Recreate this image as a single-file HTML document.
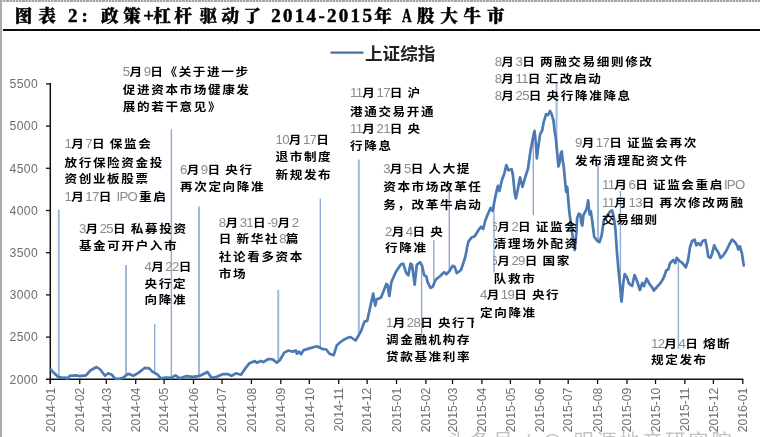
<!DOCTYPE html>
<html lang="zh-CN"><head><meta charset="utf-8"><title>图表 2</title>
<style>
html,body{margin:0;padding:0;background:#fff;}
body{width:760px;height:437px;position:relative;overflow:hidden;font-family:"Liberation Sans","Noto Sans CJK SC",sans-serif;}
#bl{position:absolute;left:0;top:0;width:2.4px;height:437px;background:#adadad;}
#bt{position:absolute;left:0;top:0;width:760px;height:1.6px;background:repeating-linear-gradient(90deg,#a6a6a6 0,#a6a6a6 2.1px,#dcdcdc 2.1px,#dcdcdc 3.2px);}
#ul{position:absolute;left:3px;top:29px;width:757px;height:2px;background:#0a0a0a;}
.t{position:absolute;top:3px;height:26px;line-height:26px;font-family:"Liberation Serif","Noto Serif CJK SC",serif;font-weight:900;font-size:19.5px;color:#000;white-space:nowrap;-webkit-text-stroke:0.45px #000;transform:translateZ(0);}
.tk{font-family:"Liberation Sans",sans-serif;font-size:12.2px;fill:#6e6e6e;}
.a{position:absolute;height:18px;line-height:18px;font-family:"Liberation Sans","Noto Sans CJK SC",sans-serif;font-weight:700;font-size:12.6px;letter-spacing:1.6px;word-spacing:-1.5px;color:#000;white-space:nowrap;transform:scaleY(0.9);transform-origin:0 50%;}
.a i{font-style:normal;font-weight:400;font-size:13.2px;letter-spacing:-0.7px;color:#8a8a8a;}
.lc{display:inline-block;width:4.6px;overflow:hidden;vertical-align:top;height:18px;direction:rtl;}
.clip{display:inline-block;width:7.5px;overflow:hidden;vertical-align:top;height:18px;}
#anns{position:absolute;left:0;top:0;width:760px;height:437px;transform:translateZ(0);}
#lg{transform:translateZ(0);position:absolute;left:365px;top:42px;height:25px;line-height:25px;font-family:"Liberation Sans","Noto Sans CJK SC",sans-serif;font-weight:700;font-size:17.6px;color:#222;white-space:nowrap;}
#wm{transform:translateZ(0);position:absolute;left:447px;top:431.8px;font-size:20px;line-height:20px;letter-spacing:3px;color:#c2c2c2;white-space:nowrap;font-family:"Liberation Sans","Noto Sans CJK SC",sans-serif;}
</style></head><body>

<svg width="760" height="437" viewBox="0 0 760 437" style="position:absolute;left:0;top:0;transform:translateZ(0)">
<line x1="58.8" y1="209.7" x2="58.8" y2="376.5" stroke="#a1badc" stroke-width="2"/>
<line x1="126.0" y1="264.9" x2="126.0" y2="376.0" stroke="#a1badc" stroke-width="2"/>
<line x1="154.7" y1="323.8" x2="154.7" y2="373.0" stroke="#8eabd2" stroke-width="1.4"/>
<line x1="171.4" y1="129.0" x2="171.4" y2="377.5" stroke="#8eabd2" stroke-width="1.4"/>
<line x1="199.0" y1="206.6" x2="199.0" y2="376.0" stroke="#a1badc" stroke-width="2"/>
<line x1="278.2" y1="290.0" x2="278.2" y2="361.0" stroke="#a1badc" stroke-width="2"/>
<line x1="320.3" y1="198.8" x2="320.3" y2="348.0" stroke="#8eabd2" stroke-width="1.4"/>
<line x1="358.8" y1="159.5" x2="358.8" y2="334.0" stroke="#a1badc" stroke-width="2"/>
<line x1="421.6" y1="264.0" x2="421.6" y2="337.5" stroke="#8eabd2" stroke-width="1.4"/>
<line x1="433.8" y1="240.0" x2="433.8" y2="287.0" stroke="#8eabd2" stroke-width="1.4"/>
<line x1="449.3" y1="191.0" x2="449.3" y2="271.5" stroke="#8eabd2" stroke-width="1.4"/>
<line x1="494.0" y1="204.7" x2="494.0" y2="272.5" stroke="#8eabd2" stroke-width="1.4"/>
<line x1="533.3" y1="134.0" x2="533.3" y2="215.3" stroke="#8eabd2" stroke-width="1.4"/>
<line x1="556.6" y1="82.0" x2="556.6" y2="150.0" stroke="#a1badc" stroke-width="2"/>
<line x1="598.0" y1="163.0" x2="598.0" y2="241.0" stroke="#a1badc" stroke-width="2"/>
<line x1="620.4" y1="191.0" x2="620.4" y2="300.0" stroke="#8eabd2" stroke-width="1.4"/>
<line x1="678.4" y1="259.0" x2="678.4" y2="349.0" stroke="#8eabd2" stroke-width="1.4"/>
<line x1="50.3" y1="83" x2="50.3" y2="384" stroke="#111" stroke-width="1.5"/>
<line x1="46" y1="379.3" x2="743.3" y2="379.3" stroke="#111" stroke-width="1.5"/>
<line x1="46" y1="337.1" x2="50.3" y2="337.1" stroke="#111" stroke-width="1.3"/>
<line x1="46" y1="294.9" x2="50.3" y2="294.9" stroke="#111" stroke-width="1.3"/>
<line x1="46" y1="252.7" x2="50.3" y2="252.7" stroke="#111" stroke-width="1.3"/>
<line x1="46" y1="210.5" x2="50.3" y2="210.5" stroke="#111" stroke-width="1.3"/>
<line x1="46" y1="168.3" x2="50.3" y2="168.3" stroke="#111" stroke-width="1.3"/>
<line x1="46" y1="126.1" x2="50.3" y2="126.1" stroke="#111" stroke-width="1.3"/>
<line x1="46" y1="83.9" x2="50.3" y2="83.9" stroke="#111" stroke-width="1.3"/>
<line x1="50.3" y1="379.3" x2="50.3" y2="384" stroke="#111" stroke-width="1.3"/>
<text transform="translate(54.5,387.6) rotate(-90)" text-anchor="end" class="tk">2014-01</text>
<line x1="79.7" y1="379.3" x2="79.7" y2="384" stroke="#111" stroke-width="1.3"/>
<text transform="translate(83.9,387.6) rotate(-90)" text-anchor="end" class="tk">2014-02</text>
<line x1="106.3" y1="379.3" x2="106.3" y2="384" stroke="#111" stroke-width="1.3"/>
<text transform="translate(110.5,387.6) rotate(-90)" text-anchor="end" class="tk">2014-03</text>
<line x1="135.7" y1="379.3" x2="135.7" y2="384" stroke="#111" stroke-width="1.3"/>
<text transform="translate(139.9,387.6) rotate(-90)" text-anchor="end" class="tk">2014-04</text>
<line x1="164.1" y1="379.3" x2="164.1" y2="384" stroke="#111" stroke-width="1.3"/>
<text transform="translate(168.3,387.6) rotate(-90)" text-anchor="end" class="tk">2014-05</text>
<line x1="193.5" y1="379.3" x2="193.5" y2="384" stroke="#111" stroke-width="1.3"/>
<text transform="translate(197.7,387.6) rotate(-90)" text-anchor="end" class="tk">2014-06</text>
<line x1="222.0" y1="379.3" x2="222.0" y2="384" stroke="#111" stroke-width="1.3"/>
<text transform="translate(226.2,387.6) rotate(-90)" text-anchor="end" class="tk">2014-07</text>
<line x1="251.4" y1="379.3" x2="251.4" y2="384" stroke="#111" stroke-width="1.3"/>
<text transform="translate(255.6,387.6) rotate(-90)" text-anchor="end" class="tk">2014-08</text>
<line x1="280.8" y1="379.3" x2="280.8" y2="384" stroke="#111" stroke-width="1.3"/>
<text transform="translate(285.0,387.6) rotate(-90)" text-anchor="end" class="tk">2014-09</text>
<line x1="309.3" y1="379.3" x2="309.3" y2="384" stroke="#111" stroke-width="1.3"/>
<text transform="translate(313.5,387.6) rotate(-90)" text-anchor="end" class="tk">2014-10</text>
<line x1="338.7" y1="379.3" x2="338.7" y2="384" stroke="#111" stroke-width="1.3"/>
<text transform="translate(342.9,387.6) rotate(-90)" text-anchor="end" class="tk">2014-11</text>
<line x1="367.1" y1="379.3" x2="367.1" y2="384" stroke="#111" stroke-width="1.3"/>
<text transform="translate(371.3,387.6) rotate(-90)" text-anchor="end" class="tk">2014-12</text>
<line x1="396.5" y1="379.3" x2="396.5" y2="384" stroke="#111" stroke-width="1.3"/>
<text transform="translate(400.7,387.6) rotate(-90)" text-anchor="end" class="tk">2015-01</text>
<line x1="425.9" y1="379.3" x2="425.9" y2="384" stroke="#111" stroke-width="1.3"/>
<text transform="translate(430.1,387.6) rotate(-90)" text-anchor="end" class="tk">2015-02</text>
<line x1="452.5" y1="379.3" x2="452.5" y2="384" stroke="#111" stroke-width="1.3"/>
<text transform="translate(456.7,387.6) rotate(-90)" text-anchor="end" class="tk">2015-03</text>
<line x1="481.9" y1="379.3" x2="481.9" y2="384" stroke="#111" stroke-width="1.3"/>
<text transform="translate(486.1,387.6) rotate(-90)" text-anchor="end" class="tk">2015-04</text>
<line x1="510.4" y1="379.3" x2="510.4" y2="384" stroke="#111" stroke-width="1.3"/>
<text transform="translate(514.6,387.6) rotate(-90)" text-anchor="end" class="tk">2015-05</text>
<line x1="539.8" y1="379.3" x2="539.8" y2="384" stroke="#111" stroke-width="1.3"/>
<text transform="translate(544.0,387.6) rotate(-90)" text-anchor="end" class="tk">2015-06</text>
<line x1="568.2" y1="379.3" x2="568.2" y2="384" stroke="#111" stroke-width="1.3"/>
<text transform="translate(572.4,387.6) rotate(-90)" text-anchor="end" class="tk">2015-07</text>
<line x1="597.6" y1="379.3" x2="597.6" y2="384" stroke="#111" stroke-width="1.3"/>
<text transform="translate(601.8,387.6) rotate(-90)" text-anchor="end" class="tk">2015-08</text>
<line x1="627.0" y1="379.3" x2="627.0" y2="384" stroke="#111" stroke-width="1.3"/>
<text transform="translate(631.2,387.6) rotate(-90)" text-anchor="end" class="tk">2015-09</text>
<line x1="655.5" y1="379.3" x2="655.5" y2="384" stroke="#111" stroke-width="1.3"/>
<text transform="translate(659.7,387.6) rotate(-90)" text-anchor="end" class="tk">2015-10</text>
<line x1="684.9" y1="379.3" x2="684.9" y2="384" stroke="#111" stroke-width="1.3"/>
<text transform="translate(689.1,387.6) rotate(-90)" text-anchor="end" class="tk">2015-11</text>
<line x1="713.4" y1="379.3" x2="713.4" y2="384" stroke="#111" stroke-width="1.3"/>
<text transform="translate(717.6,387.6) rotate(-90)" text-anchor="end" class="tk">2015-12</text>
<line x1="742.8" y1="379.3" x2="742.8" y2="384" stroke="#111" stroke-width="1.3"/>
<text transform="translate(747.0,387.6) rotate(-90)" text-anchor="end" class="tk">2016-01</text>
<text x="38.2" y="383.6" text-anchor="end" class="tk" style="letter-spacing:0.4px">2000</text>
<text x="38.2" y="341.4" text-anchor="end" class="tk" style="letter-spacing:0.4px">2500</text>
<text x="38.2" y="299.2" text-anchor="end" class="tk" style="letter-spacing:0.4px">3000</text>
<text x="38.2" y="257.0" text-anchor="end" class="tk" style="letter-spacing:0.4px">3500</text>
<text x="38.2" y="214.8" text-anchor="end" class="tk" style="letter-spacing:0.4px">4000</text>
<text x="38.2" y="172.6" text-anchor="end" class="tk" style="letter-spacing:0.4px">4500</text>
<text x="38.2" y="130.4" text-anchor="end" class="tk" style="letter-spacing:0.4px">5000</text>
<text x="38.2" y="88.2" text-anchor="end" class="tk" style="letter-spacing:0.4px">5500</text>
<polyline fill="none" stroke="#4a79b3" stroke-width="2.7" stroke-linejoin="round" stroke-linecap="round" points="50.9,369.5 53,372 58,376.8 62.9,377.9 66,377.5 67.1,379 69.8,375.8 76.6,375.4 79.7,376.2 86,375.4 90.3,370.5 96.6,367 100.2,369.5 105,375.8 108.2,373.3 112,374.7 114.5,378.3 117.6,379 122.9,377.9 128.2,373.7 133.4,375.8 138.7,372.6 145,367.8 149.2,368.4 152.4,371.6 157.6,374.7 160.8,378.3 166,377.5 171.3,377.9 175.5,375.4 179.7,378.3 186,376.2 192.4,376.8 198.7,376.2 204,373.7 207.4,372 211.6,377.9 216.8,376.8 223.2,374.1 227.4,374.1 231.6,375.8 235.8,373.3 241,374.7 245.3,368.4 249.5,363.2 254.7,361 256.8,362.7 261,361 263.2,362.1 268.4,359 272.6,359.4 276.8,362.7 280,360 284.2,352.6 288.4,350.5 292.6,351.6 295.8,350.5 296.8,353.7 299,351.6 301,354.3 303.6,350.1 309.5,348.4 316.8,346.3 322.1,348.8 326.3,349.5 329.5,353.7 333.7,355.2 336.8,345.3 340,342.5 343.3,340 347.4,337.9 350.5,337 355.5,340.5 359,334.7 361.2,330.8 364.5,321.5 367.2,320.9 370.5,305.6 373.2,293.6 375.2,305.6 376.5,299.6 381.1,297.6 384.4,289 386.4,284 387.6,285 389.3,296 391.4,282 395.8,272.1 401,264.3 403.2,263.7 406.3,273.2 408.4,275.3 410.5,263.7 412,264.7 414.7,284.7 416.8,264.7 420,262.2 422.1,265.8 424.2,275.3 426.3,276.3 427.4,281.6 430.5,287.9 432.6,286.8 435.8,279.5 440,276.3 444.2,272.1 446.3,274.2 449.5,271 452.6,265.8 454.7,266.8 456.8,273.2 461,270 463,264 465.3,257 467,248 468.4,241.6 471.6,237.4 474.7,236.3 477.9,231 481,226.8 483.2,229 485.3,220.5 487.4,215.3 490.5,207.9 492.6,211 495.2,197.4 496.8,190 497.9,185.8 499.4,191 502.1,179.5 504.2,174 506.3,165 508.4,170.3 511.6,169.2 512.8,174 514.7,193.2 515.8,198.4 517.5,191 520,177.4 522.5,186.8 525.3,177 527.9,169 530.3,152.1 532.6,139.5 534.5,130.8 535.8,142.6 536.9,158.4 538.2,147.4 540.2,133.9 542.1,130.8 543.7,122.1 546.1,114.2 548.1,115 550,111 551.6,114.2 553.5,120.5 554.7,131.6 556,139.5 557.1,152.1 558.4,166.3 559.5,163.2 560.7,153.7 561.8,151.3 562.6,160 563.7,166.3 565,180.5 566.1,191.6 567.2,186.8 568.1,197.9 569.2,210.5 570.8,223.2 572.6,236 574.7,250 576.4,233.2 577.1,218.4 578.7,213.7 580.3,214.5 581.4,223.2 582.3,225.5 583.4,215.3 585,212.1 586.6,209 588.2,200.3 588.9,209 589.7,214.5 590.8,211.3 592.1,220 594.2,236.8 597.4,241 599.5,242.1 601.6,235.8 603.7,221 605.8,217.9 607.9,214.7 610,211.6 612.1,210.5 613.6,216 615.3,228 617,252.6 618.4,269.5 619.9,284 621.6,301.6 623.3,282.6 624.7,274 626.8,277 629,283.7 632.1,286 634.6,275 637.4,282 639.9,290 642.3,283 644,286 646.6,278.7 649.5,284 652.1,287.4 653.8,290.5 657.4,286.5 661,282.4 664,277 666.2,270.5 668.3,269.5 670,263.2 673.2,260 675.3,263.2 676.7,257.9 679.5,261 682.6,263.2 685.8,267.4 687.9,261 690,247.4 692.1,241 694.6,239.6 696.3,245.3 698.4,243.2 700.5,245.3 702.6,241 705.4,240 706.8,247.4 708.3,256.8 710.4,257.9 712.1,253.7 714.2,245.3 716.3,249.5 718.4,252.6 720.5,257.9 723,255.8 725.8,251.6 727.9,247.4 730,243.2 732.1,239.6 734.8,242.1 737,245.3 738.4,249.5 739.9,246.3 742,253.7 743.7,265.3"/>
<line x1="330.5" y1="52.7" x2="363.5" y2="52.7" stroke="#44709f" stroke-width="2.2"/>
</svg>
<div class="t" style="left:14.8px;font-size:17.5px;letter-spacing:6.00px">图表</div>
<div class="t" style="left:68.0px;font-size:19.0px;letter-spacing:4.00px">2:</div>
<div class="t" style="left:101.1px;font-size:17.5px;letter-spacing:4.60px">政策</div>
<div class="t" style="left:143.2px;font-size:19.0px;letter-spacing:0.00px">+</div>
<div class="t" style="left:153.2px;font-size:17.5px;letter-spacing:3.50px">杠杆</div>
<div class="t" style="left:199.4px;font-size:17.5px;letter-spacing:4.60px">驱动了</div>
<div class="t" style="left:271.2px;font-size:19.0px;letter-spacing:2.30px">2014-2015</div>
<div class="t" style="left:374.2px;font-size:17.5px;letter-spacing:0.00px">年</div>
<div class="t" style="left:402.0px;font-size:19.0px;letter-spacing:0.00px"><span style="display:inline-block;transform:scaleX(0.7);transform-origin:0 50%">A</span></div>
<div class="t" style="left:417.0px;font-size:17.5px;letter-spacing:5.80px">股大牛市</div>
<div id="ul"></div><div id="bl"></div><div id="bt"></div>
<div id="lg">上证综指</div>
<div id="anns">
<div class="a" style="left:64.5px;top:135.3px"><i>1</i>月<i>7</i>日 保监会</div>
<div class="a" style="left:64.5px;top:153.5px">放行保险资金投</div>
<div class="a" style="left:64.5px;top:169.7px">资创业板股票</div>
<div class="a" style="left:64.5px;top:187.8px"><i>1</i>月<i>17</i>日 <i>IPO</i><span style="margin-left:2px">重启</span></div>
<div class="a" style="left:122.8px;top:63.0px"><i>5</i>月<i>9</i>日《关于进一步</div>
<div class="a" style="left:122.8px;top:80.8px">促进资本市场健康发</div>
<div class="a" style="left:122.8px;top:98.3px">展的若干意见》</div>
<div class="a" style="left:78.9px;top:219.7px"><i>3</i>月<i>25</i>日 私募投资</div>
<div class="a" style="left:78.9px;top:236.7px">基金可开户入市</div>
<div class="a" style="left:144.5px;top:258.3px"><i>4</i>月<i>22</i>日</div>
<div class="a" style="left:144.5px;top:274.8px">央行定</div>
<div class="a" style="left:144.5px;top:291.2px">向降准</div>
<div class="a" style="left:180.0px;top:160.8px"><i>6</i>月<i>9</i>日 央行</div>
<div class="a" style="left:180.0px;top:177.6px">再次定向降准</div>
<div class="a" style="left:218.8px;top:213.5px"><i>8</i>月<i>31</i>日<i>-9</i>月<i>2</i></div>
<div class="a" style="left:218.8px;top:230.3px">日 新华社<i>8</i>篇</div>
<div class="a" style="left:218.8px;top:247.6px">社论看多资本</div>
<div class="a" style="left:218.8px;top:264.8px">市场</div>
<div class="a" style="left:275.5px;top:130.7px"><i>10</i>月<i>17</i>日</div>
<div class="a" style="left:275.5px;top:148.4px">退市制度</div>
<div class="a" style="left:275.5px;top:166.0px">新规发布</div>
<div class="a" style="left:350.0px;top:84.4px"><i>11</i>月<i>17</i>日 沪</div>
<div class="a" style="left:350.0px;top:102.5px">港通交易开通</div>
<div class="a" style="left:350.0px;top:119.7px"><i>11</i>月<i>21</i>日 央</div>
<div class="a" style="left:350.0px;top:136.9px">行降息</div>
<div class="a" style="left:383.2px;top:160.3px"><i>3</i>月<i>5</i>日 人大提</div>
<div class="a" style="left:383.2px;top:178.3px">资本市场改革任</div>
<div class="a" style="left:383.2px;top:195.6px">务，改革牛启动</div>
<div class="a" style="left:385.0px;top:223.0px"><i>2</i>月<i>4</i>日 央</div>
<div class="a" style="left:385.0px;top:238.8px">行降准</div>
<div class="a" style="left:386.0px;top:314.0px"><i>1</i>月<i>28</i>日 央行<span class="clip">下</span></div>
<div class="a" style="left:386.0px;top:331.0px">调金融机构存</div>
<div class="a" style="left:386.0px;top:348.3px">贷款基准利率</div>
<div class="a" style="left:480.0px;top:286.2px"><i>4</i>月<i>19</i>日 央行</div>
<div class="a" style="left:480.0px;top:303.5px">定向降准</div>
<div class="a" style="left:492.6px;top:217.5px"><span class="lc"><i>6</i></span>月<i>2</i>日 证监会</div>
<div class="a" style="left:493.8px;top:234.8px">清理场外配资</div>
<div class="a" style="left:492.6px;top:252.0px"><span class="lc"><i>6</i></span>月<i>29</i>日 国家</div>
<div class="a" style="left:493.8px;top:269.8px">队救市</div>
<div class="a" style="left:494.7px;top:53.1px"><i>8</i>月<i>3</i>日 两融交易细则修改</div>
<div class="a" style="left:494.7px;top:70.0px"><i>8</i>月<i>11</i>日 汇改启动</div>
<div class="a" style="left:494.7px;top:86.9px"><i>8</i>月<i>25</i>日 央行降准降息</div>
<div class="a" style="left:575.0px;top:134.0px"><i>9</i>月<i>17</i>日 证监会再次</div>
<div class="a" style="left:575.0px;top:152.3px">发布清理配资文件</div>
<div class="a" style="left:602.0px;top:176.0px"><i>11</i>月<i>6</i>日 证监会重启<i>IPO</i></div>
<div class="a" style="left:602.0px;top:193.5px"><i>11</i>月<i>13</i>日 再次修改两融</div>
<div class="a" style="left:602.0px;top:210.5px">交易细则</div>
<div class="a" style="left:651.0px;top:334.7px"><i>12</i>月<i>4</i>日 熔断</div>
<div class="a" style="left:651.0px;top:351.0px">规定发布</div>
</div>
<div id="wm">头条号 / @ 明源地产研究院</div>
</body></html>
